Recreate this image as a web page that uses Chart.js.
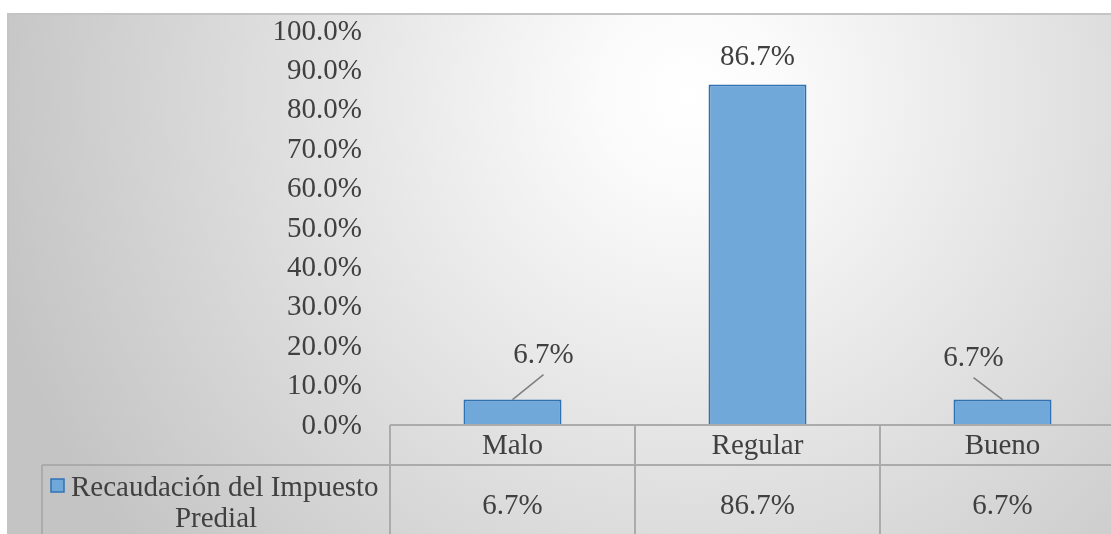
<!DOCTYPE html>
<html>
<head>
<meta charset="utf-8">
<script src="https://cdn.jsdelivr.net/npm/chart.js@4.4.1/dist/chart.umd.min.js"></script>
<style>
  html, body { margin: 0; padding: 0; overflow: hidden; background: #ffffff; }
  #wrap { position: absolute; left: 0; top: 0; width: 1125px; height: 534px; }
</style>
</head>
<body>
<div id="wrap"><canvas id="c" width="1125" height="534"></canvas></div>
<script>
// Survey result: perceived level of property tax collection
const categories = ['Malo', 'Regular', 'Bueno'];
const seriesName = 'Recaudación del Impuesto Predial';
const values = [6.7, 86.7, 6.7];
const yTicks = [0, 10, 20, 30, 40, 50, 60, 70, 80, 90, 100];

const FONT = '"Liberation Serif", "Times New Roman", serif';
const FS = 29;
const TEXT = '#404040';
const BAR_FILL = '#70A8DA';
const BAR_EDGE = '#2F72B4';
const GRID = '#ABABAB';

const pct = v => v.toFixed(1) + '%';

// Label placement per bar (relative to bar top centre) and leader line
const labelPlacement = [
  { dx: 31, dy: -44, leader: true },
  { dx: 0, dy: -27, leader: false },
  { dx: -29, dy: -41, leader: true }
];

const backgroundPlugin = {
  id: 'panelBackground',
  beforeDraw(chart) {
    const ctx = chart.ctx;
    const W = chart.width, H = chart.height;
    ctx.save();
    ctx.fillStyle = '#ffffff';
    ctx.fillRect(0, 0, W, H);
    const g = ctx.createRadialGradient(690, 95, 0, 690, 95, 720);
    g.addColorStop(0, '#ffffff');
    g.addColorStop(0.12, '#fbfbfb');
    g.addColorStop(1, '#c4c4c4');
    ctx.fillStyle = g;
    ctx.fillRect(8, 14, W - 8, H - 14);
    ctx.strokeStyle = '#c4c4c4';
    ctx.lineWidth = 2;
    ctx.beginPath();
    ctx.moveTo(8, H);
    ctx.lineTo(8, 14);
    ctx.lineTo(W, 14);
    ctx.stroke();
    ctx.restore();
  }
};

const tablePlugin = {
  id: 'dataTable',
  afterDraw(chart) {
    const ctx = chart.ctx;
    const x = chart.scales.x;
    const area = chart.chartArea;
    const H = chart.height;
    const top = area.bottom - 1;
    const rowH = 40;
    const legendLeft = 42;
    const n = categories.length;
    const colW = (area.right - area.left) / n;

    ctx.save();
    ctx.strokeStyle = GRID;
    ctx.lineWidth = 2;
    ctx.beginPath();
    // header row top and separator
    ctx.moveTo(area.left, top); ctx.lineTo(chart.width, top);
    ctx.moveTo(legendLeft, top + rowH); ctx.lineTo(chart.width, top + rowH);
    // column separators
    for (let i = 0; i < n; i++) {
      const cx = area.left + i * colW;
      ctx.moveTo(cx, top); ctx.lineTo(cx, H);
    }
    ctx.moveTo(legendLeft, top + rowH); ctx.lineTo(legendLeft, H);
    ctx.stroke();

    ctx.fillStyle = TEXT;
    ctx.font = FS + 'px ' + FONT;
    ctx.textAlign = 'center';
    ctx.textBaseline = 'middle';
    categories.forEach((c, i) => {
      const cx = x.getPixelForValue(i);
      ctx.fillText(c, cx, top + rowH / 2 + 1);
      ctx.fillText(pct(values[i]), cx, top + rowH + 41);
    });

    // legend key cell
    ctx.fillStyle = BAR_FILL;
    ctx.fillRect(51, 479, 13, 13);
    ctx.strokeStyle = BAR_EDGE;
    ctx.lineWidth = 1.5;
    ctx.strokeRect(51, 479, 13, 13);
    ctx.fillStyle = TEXT;
    ctx.textAlign = 'left';
    ctx.fillText('Recaudación del Impuesto', 71, 488);
    ctx.textAlign = 'center';
    ctx.fillText('Predial', 216, 519);
    ctx.restore();
  }
};

const labelPlugin = {
  id: 'valueLabels',
  afterDatasetsDraw(chart) {
    const ctx = chart.ctx;
    const meta = chart.getDatasetMeta(0);
    ctx.save();
    ctx.font = FS + 'px ' + FONT;
    ctx.fillStyle = TEXT;
    ctx.textAlign = 'center';
    ctx.textBaseline = 'middle';
    meta.data.forEach((bar, i) => {
      const p = labelPlacement[i];
      const lx = bar.x + p.dx, ly = bar.y + p.dy;
      if (p.leader) {
        ctx.strokeStyle = '#7f7f7f';
        ctx.lineWidth = 1.5;
        ctx.beginPath();
        ctx.moveTo(lx, ly + 19);
        ctx.lineTo(bar.x, bar.y);
        ctx.stroke();
      }
      ctx.fillText(pct(values[i]), lx, ly);
    });
    ctx.restore();
  }
};

new Chart(document.getElementById('c'), {
  type: 'bar',
  data: {
    labels: categories,
    datasets: [{
      label: seriesName,
      data: values,
      backgroundColor: BAR_FILL,
      borderColor: BAR_EDGE,
      borderWidth: 2,
      borderSkipped: 'bottom',
      categoryPercentage: 1,
      barPercentage: 0.4
    }]
  },
  options: {
    responsive: false,
    animation: false,
    devicePixelRatio: 1,
    layout: { padding: { top: 32, bottom: 108, left: 0, right: 0 } },
    plugins: { legend: { display: false }, tooltip: { enabled: false } },
    scales: {
      x: { display: false, offset: true },
      y: {
        min: 0, max: 100,
        afterBuildTicks(scale) { scale.ticks = yTicks.map(v => ({ value: v })); },
        afterFit(scale) {
          scale.width = 390;
          // the tick padding is horizontal only; keep the plot area top/bottom from layout padding
          scale.paddingTop = 0;
          scale.paddingBottom = 0;
        },
        grid: { display: false, drawTicks: false },
        border: { display: false },
        ticks: {
          padding: 28,
          color: TEXT,
          font: { family: FONT, size: FS },
          callback: v => pct(v)
        }
      }
    }
  },
  plugins: [backgroundPlugin, labelPlugin, tablePlugin]
});
</script>
</body>
</html>
